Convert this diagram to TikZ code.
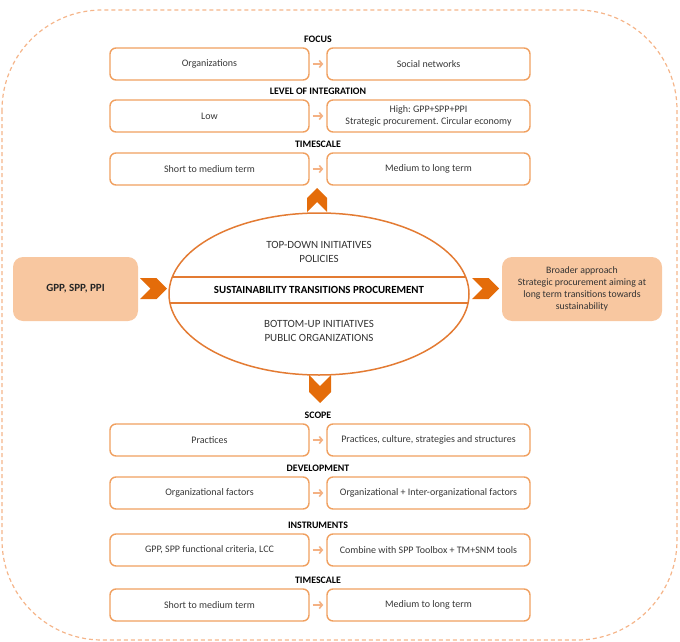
\documentclass[tikz,border=0pt]{standalone}
\usepackage{fontspec}
\setmainfont{Carlito}
\frenchspacing
\usetikzlibrary{arrows.meta, shapes.geometric, shapes.symbols, positioning}
\definecolor{PeachLine}{HTML}{F0A060}
\definecolor{PeachFill}{HTML}{F8C7A0}
\definecolor{ArrowPeach}{HTML}{F4B183}
\definecolor{DashPeach}{HTML}{F5B58A}
\definecolor{EmberOrange}{HTML}{E46C0A}
\definecolor{RingOrange}{HTML}{E37B33}

\begin{document}
\begin{tikzpicture}[x=1pt, y=-1pt,
    rowbox/.style={rectangle, rounded corners=6pt, draw=PeachLine, line width=1.4pt, fill=white,
                   minimum height=32pt, inner sep=2pt, align=center,
                   font=\fontsize{10}{12.5}\selectfont, text=black!78},
    leftbox/.style={rowbox, minimum width=199pt},
    rightbox/.style={rowbox, minimum width=203pt},
    heading/.style={font=\fontsize{9.9}{11}\selectfont\bfseries},
    link/.style={-{Straight Barb[length=3pt, width=7pt]}, line width=1.6pt, color=ArrowPeach,
                 shorten >=3pt, shorten <=3pt},
    chevron/.style={signal, signal to=east, signal from=west, fill=EmberOrange, draw=none,
                    inner sep=0pt},
    sidebox/.style={rectangle, rounded corners=10pt, fill=PeachFill, minimum height=64pt,
                    align=center, font=\fontsize{9.8}{12}\selectfont, text=black!80},
    coretext/.style={align=center, font=\fontsize{11}{14}\selectfont, text=black!80},
    bandtext/.style={font=\fontsize{10.9}{12}\selectfont\bfseries}
]
    \useasboundingbox (0,0) rectangle (680,642);
    % outer frame
    \draw[DashPeach, dash pattern=on 4pt off 3pt, line width=1.2pt, rounded corners=100pt]
        (2,10) rectangle (677,640);

    % rows above and below the ellipse
    \foreach \nm/\y/\hd/\lt/\rt in {
        focus/64/FOCUS/Organizations/Social networks,
        level/116/LEVEL OF INTEGRATION/Low/{High: GPP+SPP+PPI\\Strategic procurement. Circular economy},
        timeA/169/TIMESCALE/Short to medium term/Medium to long term,
        scope/440/SCOPE/Practices/{Practices, culture, strategies and structures},
        devel/493/DEVELOPMENT/Organizational factors/Organizational + Inter-organizational factors,
        instr/550/INSTRUMENTS/{GPP, SPP functional criteria, LCC}/Combine with SPP Toolbox + TM+SNM tools,
        timeB/605/TIMESCALE/Short to medium term/Medium to long term} {
        \node[leftbox] (\nm-l) at (209.5,\y) {\lt};
        \node[rightbox] (\nm-r) at (428.5,\y) {\rt};
        \node[heading] (\nm-h) at (318,\y-25) {\hd};
        \draw[link] (\nm-l) -- (\nm-r);
    }

    % central ellipse
    \node[ellipse, draw=RingOrange, line width=1.5pt, minimum width=300pt, minimum height=162pt,
          inner sep=0pt] (core) at (319,294) {};
    \begin{scope}
        \clip (319,294) ellipse [x radius=150, y radius=81];
        \draw[RingOrange, line width=1.4pt] (160,277) -- (480,277) (160,303) -- (480,303);
    \end{scope}
    \node[coretext] (topdown) at (319,252) {TOP-DOWN INITIATIVES\\POLICIES};
    \node[bandtext] (band) at (319,290) {SUSTAINABILITY TRANSITIONS PROCUREMENT};
    \node[coretext] (bottomup) at (319,331) {BOTTOM-UP INITIATIVES\\PUBLIC ORGANIZATIONS};

    % side boxes
    \node[sidebox, minimum width=125pt, font=\fontsize{11}{12}\selectfont\bfseries, text=black!85]
        (gpp) at (75.5,289) {GPP, SPP, PPI};
    \node[sidebox, minimum width=160pt] (broad) at (582,289)
        {Broader approach\\Strategic procurement  aiming at\\long term transitions towards\\sustainability};

    % chevrons
    \node[chevron, minimum width=27pt, minimum height=21pt] (cin) at (153.5,288.5) {};
    \node[chevron, minimum width=27pt, minimum height=21pt] (cout) at (485.5,288.5) {};
    \node[chevron, rotate=90, minimum width=24pt, minimum height=20pt] (cup) at (317,200) {};
    \node[chevron, rotate=-90, minimum width=28pt, minimum height=22pt] (cdown) at (320,389) {};
\end{tikzpicture}
\end{document}
